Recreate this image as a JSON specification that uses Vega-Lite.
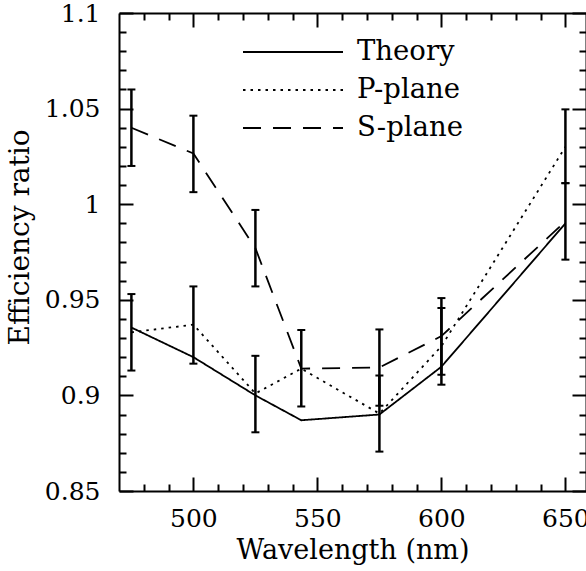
{
  "$schema": "https://vega.github.io/schema/vega-lite/v6.json",
  "width": 467,
  "height": 478,
  "autosize": {"type": "none"},
  "padding": {"left": 119, "top": 13, "right": 0, "bottom": 80},
  "background": "white",
  "config": {
    "view": {"stroke": null},
    "font": "DejaVu Serif",
    "axis": {
      "grid": false,
      "domainColor": "black",
      "domainWidth": 2,
      "tickColor": "black",
      "tickWidth": 2,
      "labelColor": "black",
      "titleColor": "black",
      "labelFont": "DejaVu Serif",
      "labelFontSize": 25,
      "titleFont": "DejaVu Serif",
      "titleFontSize": 27,
      "titleFontWeight": "normal"
    }
  },
  "datasets": {
    "lines": [
      {"wl": 475, "val": 0.9355, "series": "Theory"},
      {"wl": 500, "val": 0.92, "series": "Theory"},
      {"wl": 525, "val": 0.9, "series": "Theory"},
      {"wl": 543.5, "val": 0.887, "series": "Theory"},
      {"wl": 575, "val": 0.89, "series": "Theory"},
      {"wl": 600, "val": 0.915, "series": "Theory"},
      {"wl": 650, "val": 0.99, "series": "Theory"},
      {"wl": 475, "val": 0.933, "series": "P-plane"},
      {"wl": 500, "val": 0.937, "series": "P-plane"},
      {"wl": 525, "val": 0.901, "series": "P-plane"},
      {"wl": 543.5, "val": 0.914, "series": "P-plane"},
      {"wl": 575, "val": 0.8905, "series": "P-plane"},
      {"wl": 600, "val": 0.9257, "series": "P-plane"},
      {"wl": 650, "val": 1.03, "series": "P-plane"},
      {"wl": 475, "val": 1.04, "series": "S-plane"},
      {"wl": 500, "val": 1.0265, "series": "S-plane"},
      {"wl": 525, "val": 0.977, "series": "S-plane"},
      {"wl": 543.5, "val": 0.914, "series": "S-plane"},
      {"wl": 575, "val": 0.9146, "series": "S-plane"},
      {"wl": 600, "val": 0.931, "series": "S-plane"},
      {"wl": 650, "val": 0.991, "series": "S-plane"}
    ],
    "bars": [
      {"wl": 475, "lo": 0.913, "hi": 0.953},
      {"wl": 475, "lo": 1.02, "hi": 1.06},
      {"wl": 500, "lo": 0.9166, "hi": 0.957},
      {"wl": 500, "lo": 1.0063, "hi": 1.0463},
      {"wl": 525, "lo": 0.8807, "hi": 0.9207},
      {"wl": 525, "lo": 0.957, "hi": 0.997},
      {"wl": 543.5, "lo": 0.8942, "hi": 0.9342},
      {"wl": 575, "lo": 0.8946, "hi": 0.9345},
      {"wl": 575, "lo": 0.8706, "hi": 0.9104},
      {"wl": 600, "lo": 0.9108, "hi": 0.9509},
      {"wl": 600, "lo": 0.9056, "hi": 0.9457},
      {"wl": 650, "lo": 1.011, "hi": 1.0496},
      {"wl": 650, "lo": 0.971, "hi": 1.011}
    ]
  },
  "layer": [
    {
      "data": {"name": "lines"},
      "mark": {"type": "line", "color": "black", "strokeWidth": 1.8, "strokeCap": "butt"},
      "encoding": {
        "x": {
          "field": "wl", "type": "quantitative",
          "scale": {"domain": [470, 658.3], "nice": false, "zero": false},
          "axis": {"orient": "bottom", "values": [500, 550, 600, 650], "format": "d", "tickSize": -14, "labelPadding": 29, "labelFlush": false, "title": "Wavelength (nm)", "titlePadding": 6}
        },
        "y": {
          "field": "val", "type": "quantitative",
          "scale": {"domain": [0.85, 1.1], "nice": false, "zero": false},
          "axis": {"orient": "left", "values": [0.85, 0.9, 0.95, 1, 1.05, 1.1], "format": "~g", "tickSize": -14, "labelPadding": 33, "title": "Efficiency ratio", "titlePadding": 10, "titleFontSize": 28, "titleY": 224}
        },
        "strokeDash": {
          "field": "series", "type": "nominal",
          "scale": {"domain": ["Theory", "P-plane", "S-plane"], "range": [[1, 0], [2.5, 5], [18, 12]]},
          "legend": {
            "orient": "none", "legendX": 123, "legendY": 20, "title": null,
            "symbolType": "stroke", "symbolSize": 10000, "symbolStrokeWidth": 1.8,
            "symbolStrokeColor": "black", "clipHeight": 38, "rowPadding": 0,
            "labelFont": "DejaVu Serif", "labelFontSize": 27.5, "labelColor": "black",
            "labelOffset": 13, "labelLimit": 0, "padding": 0
          }
        }
      }
    },
    {
      "data": {"name": "bars"},
      "mark": {"type": "rule", "color": "black", "strokeWidth": 2.5},
      "encoding": {
        "x": {"field": "wl", "type": "quantitative",
          "axis": {"orient": "top", "values": [500, 550, 600, 650], "tickSize": -14, "labels": false, "title": null}},
        "y": {"field": "lo", "type": "quantitative",
          "axis": {"orient": "right", "values": [0.85, 0.9, 0.95, 1, 1.05, 1.1], "tickSize": -14, "labels": false, "title": null}},
        "y2": {"field": "hi"}
      }
    },
    {
      "data": {"name": "bars"},
      "mark": {"type": "tick", "orient": "horizontal", "size": 8, "thickness": 2, "color": "black", "opacity": 1},
      "encoding": {
        "x": {"field": "wl", "type": "quantitative",
          "axis": {"orient": "bottom", "values": [480, 490, 510, 520, 530, 540, 560, 570, 580, 590, 610, 620, 630, 640], "tickSize": -7, "labels": false, "domain": false, "title": null}},
        "y": {"field": "lo", "type": "quantitative",
          "axis": {"orient": "left", "values": [0.86, 0.87, 0.88, 0.89, 0.91, 0.92, 0.93, 0.94, 0.96, 0.97, 0.98, 0.99, 1.01, 1.02, 1.03, 1.04, 1.06, 1.07, 1.08, 1.09], "tickSize": -7, "labels": false, "domain": false, "title": null}}
      }
    },
    {
      "data": {"name": "bars"},
      "mark": {"type": "tick", "orient": "horizontal", "size": 8, "thickness": 2, "color": "black", "opacity": 1},
      "encoding": {
        "x": {"field": "wl", "type": "quantitative",
          "axis": {"orient": "top", "values": [480, 490, 510, 520, 530, 540, 560, 570, 580, 590, 610, 620, 630, 640], "tickSize": -7, "labels": false, "domain": false, "title": null}},
        "y": {"field": "hi", "type": "quantitative",
          "axis": {"orient": "right", "values": [0.86, 0.87, 0.88, 0.89, 0.91, 0.92, 0.93, 0.94, 0.96, 0.97, 0.98, 0.99, 1.01, 1.02, 1.03, 1.04, 1.06, 1.07, 1.08, 1.09], "tickSize": -7, "labels": false, "domain": false, "title": null}}
      }
    }
  ],
  "resolve": {"axis": {"x": "independent", "y": "independent"}}
}
